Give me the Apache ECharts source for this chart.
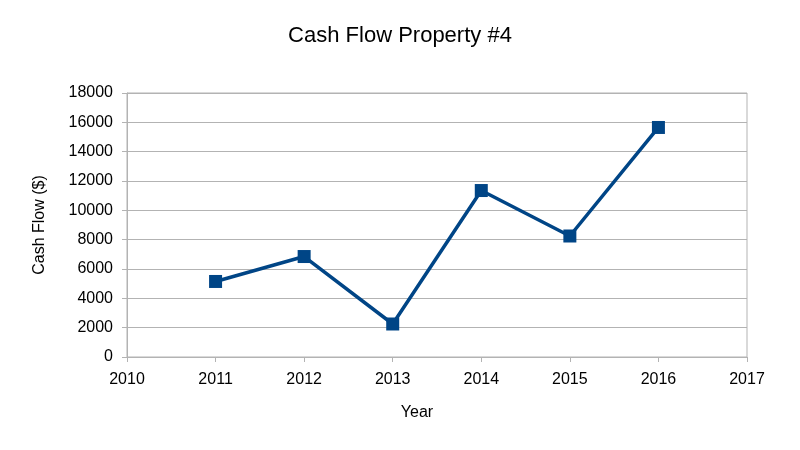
<!DOCTYPE html>
<html>
<head>
<meta charset="utf-8">
<script src="https://cdn.jsdelivr.net/npm/echarts@6/dist/echarts.min.js"></script>
<style>html,body{margin:0;padding:0;background:#fff;}#c{width:800px;height:450px;}</style>
</head>
<body>
<div id="c"></div>
<script>
var years = [2011, 2012, 2013, 2014, 2015, 2016];
var cashFlow = [5150, 6850, 2250, 11350, 8250, 15650];

var chart = echarts.init(document.getElementById('c'), null, {renderer: 'canvas'});
var font = '"Liberation Sans", Arial, sans-serif';
chart.setOption({
  animation: false,
  backgroundColor: '#ffffff',
  title: {
    text: 'Cash Flow Property #4',
    left: 'center',
    top: 20,
    textStyle: {fontFamily: font, fontSize: 22, fontWeight: 'normal', color: '#000'}
  },
  grid: {
    left: 127, right: 53, top: 93, bottom: 93,
    show: true, borderColor: '#b3b3b3', borderWidth: 1, backgroundColor: 'transparent'
  },
  xAxis: {
    type: 'value', min: 2010, max: 2017, interval: 1,
    name: 'Year', nameLocation: 'middle', nameGap: 48,
    nameTextStyle: {fontFamily: font, fontSize: 16, color: '#000', padding: [0, 40, 0, 0]},
    axisLine: {show: true, lineStyle: {color: '#b3b3b3'}},
    axisTick: {show: true, length: 5, lineStyle: {color: '#b3b3b3'}},
    axisLabel: {fontFamily: font, fontSize: 16, color: '#000', margin: 15,
      formatter: function (v) { return String(v); }},
    splitLine: {show: false}
  },
  yAxis: {
    type: 'value', min: 0, max: 18000, interval: 2000,
    name: 'Cash Flow ($)', nameLocation: 'middle', nameGap: 79, nameRotate: 90,
    nameTextStyle: {fontFamily: font, fontSize: 16, color: '#000'},
    axisLine: {show: true, lineStyle: {color: '#b3b3b3'}},
    axisTick: {show: true, length: 5, lineStyle: {color: '#b3b3b3'}},
    axisLabel: {fontFamily: font, fontSize: 16, color: '#000', margin: 14,
      formatter: function (v) { return String(v); }},
    splitLine: {show: true, lineStyle: {color: '#b3b3b3', width: 1}}
  },
  series: [{
    type: 'line',
    data: years.map(function (y, i) { return [y, cashFlow[i]]; }),
    symbol: 'rect', symbolSize: 13,
    lineStyle: {color: '#004586', width: 3.5},
    itemStyle: {color: '#004586'}
  }]
});
</script>
</body>
</html>
